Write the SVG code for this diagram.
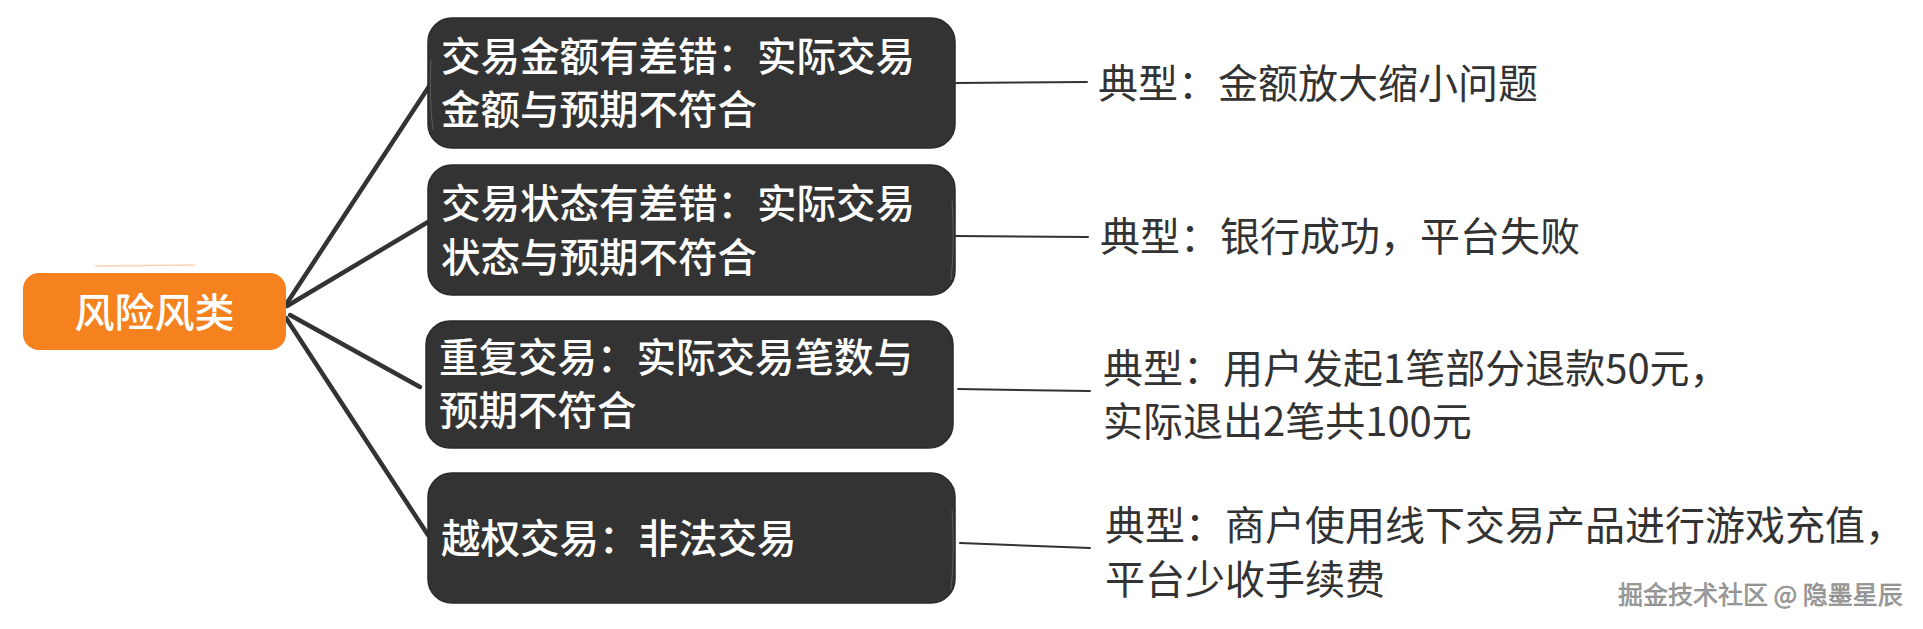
<svg xmlns="http://www.w3.org/2000/svg" width="1923" height="629" viewBox="0 0 1923 629">
<style>
.box{fill:#333333;stroke:#2a2a2a;stroke-width:1.5}
.sk{fill:none;stroke:#777;stroke-width:1;opacity:.6}
.bt{font-family:"Noto Sans CJK SC","Noto Sans",sans-serif;font-size:39.5px;font-weight:500;fill:#ffffff}
.rt{font-family:"Noto Sans CJK SC","Noto Sans",sans-serif;font-size:40px;fill:#333333}
.thick{fill:none;stroke:#333333;stroke-width:4.5;stroke-linecap:round}
.thin{fill:none;stroke:#333333;stroke-width:2;stroke-linecap:round}
</style>
<rect width="1923" height="629" fill="#ffffff"/>
<g id="connectors">
<path class="thick" d="M287 303 L430 85"/>
<path class="thick" d="M287 306 L428 222"/>
<path class="thick" d="M290 315 L420 387"/>
<path class="thick" d="M286 318 L428 535"/>
<path class="thin" d="M956 83 L1087 82"/>
<path class="thin" d="M956 236 L1088 237"/>
<path class="thin" d="M958 389 L1090 391"/>
<path class="thin" d="M960 543 L1090 548"/>
</g>
<g id="root">
<path d="M95 266 L195 265" stroke="#f5821f" stroke-width="1.5" opacity=".35" fill="none"/>
<rect x="23" y="273" width="263" height="77" rx="16" fill="#f5821f"/>
<text class="bt" x="154.5" y="327" text-anchor="middle" style="font-size:40px">风险风类</text>
</g>
<g id="n1">
<rect class="box" x="428" y="18" width="527" height="130" rx="24"/>
<path class="sk" d="M431 60 Q429 100 433 130"/>
<text class="bt" x="441" y="71">交易金额有差错：实际交易</text>
<text class="bt" x="441" y="124">金额与预期不符合</text>
</g>
<g id="n2">
<rect class="box" x="428" y="165" width="527" height="130" rx="24"/>
<path class="sk" d="M952 200 Q955 240 951 280"/>
<text class="bt" x="441" y="218">交易状态有差错：实际交易</text>
<text class="bt" x="441" y="272">状态与预期不符合</text>
</g>
<g id="n3">
<rect class="box" x="426" y="321" width="527" height="127" rx="24"/>
<text class="bt" x="439" y="372">重复交易：实际交易笔数与</text>
<text class="bt" x="439" y="425">预期不符合</text>
</g>
<g id="n4">
<rect class="box" x="428" y="473" width="527" height="130" rx="24"/>
<path class="sk" d="M952 510 Q955 550 951 590"/>
<text class="bt" x="441" y="553">越权交易：非法交易</text>
</g>
<g id="t1"><text class="rt" x="1098" y="98">典型：金额放大缩小问题</text></g>
<g id="t2"><text class="rt" x="1100" y="251">典型：银行成功，平台失败</text></g>
<g id="t3">
<text class="rt" x="1103" y="383">典型：用户发起1笔部分退款50元，</text>
<text class="rt" x="1103" y="436">实际退出2笔共100元</text>
</g>
<g id="t4">
<text class="rt" x="1105" y="540">典型：商户使用线下交易产品进行游戏充值，</text>
<text class="rt" x="1105" y="594">平台少收手续费</text>
</g>
<g id="watermark">
<text x="1618" y="604" font-family="Noto Sans CJK SC,sans-serif" font-size="25" fill="#a0a0a0" stroke="#7a7a7a" stroke-width="0.5">掘金技术社区 @ 隐墨星辰</text>
</g>
</svg>
